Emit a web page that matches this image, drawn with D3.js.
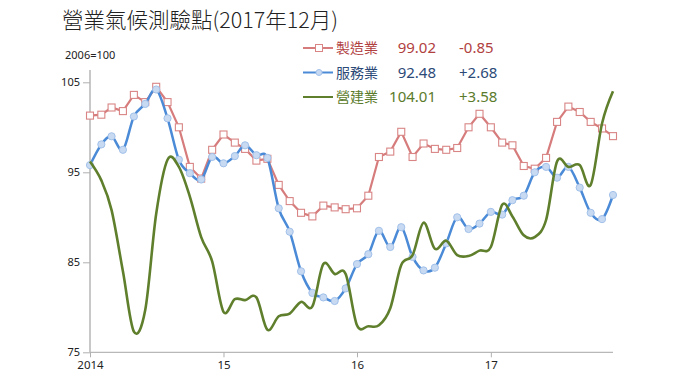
<!DOCTYPE html>
<html><head><meta charset="utf-8">
<script src="https://cdn.jsdelivr.net/npm/d3@7"></script>
<style>body{margin:0;background:#fff;}svg{display:block;}</style>
</head><body><svg id="c" width="680" height="382"></svg>
<script>
const months = d3.range(48).map(i => new Date(2014 + Math.floor(i/12), i%12, 1));
const manufacturing = [101.3,101.4,102.2,101.8,103.6,102.8,104.5,102.8,100.0,95.6,94.3,97.5,
  99.2,98.3,97.6,96.3,96.5,93.6,91.8,90.5,90.1,91.3,91.1,90.9,
  91.0,92.4,96.7,97.3,99.5,96.7,98.2,97.6,97.5,97.7,100.0,101.5,
  100.0,98.3,98.0,95.7,95.4,96.6,100.6,102.3,101.7,100.6,99.87,99.02];
const services = [95.8,98.1,99.0,97.5,101.2,102.6,104.2,101.0,96.4,94.9,94.2,96.7,
  96.0,96.8,98.0,96.9,96.6,91.0,88.4,84.0,81.6,81.1,80.7,82.1,
  84.8,85.9,88.5,86.7,88.9,85.6,84.1,84.4,87.1,90.0,88.7,89.3,
  90.6,90.3,91.9,92.4,95.0,95.6,94.4,95.6,93.3,90.5,89.80,92.48];
const construction = [96.2,94.1,90.8,84.0,77.3,79.7,90.4,96.4,95.6,92.3,87.8,85.1,
  79.5,80.9,80.8,81.1,77.5,79.0,79.3,80.6,80.1,84.8,83.7,83.7,
  78.0,77.9,78.0,79.9,84.7,85.8,89.4,86.5,87.4,85.8,85.7,86.3,
  86.7,91.4,90.1,88.0,87.8,89.7,96.2,95.6,95.8,93.6,100.43,104.01];
const yTicks = [75,85,95,105];
const xTickYears = [2014,2015,2016,2017];
const xTickLabels = ["2014","15","16","17"];
const seriesNames = ["製造業","服務業","營建業"];
const lastValues = ["99.02","92.48","104.01"];
const changes = ["-0.85","+2.68","+3.58"];
const titleText = "營業氣候測驗點(2017年12月)";
const unitText = "2006=100";

const svg = d3.select("#c");
const x = d3.scaleTime().domain([months[0], months[47]]).range([90, 613]);
const y = d3.scaleLinear().domain([75, 105]).range([352.3, 82.3]);

svg.append("text").attr("x", 62).attr("y", 28).attr("font-family","Noto Sans CJK TC")
  .attr("font-size", 21.5).attr("font-weight",300).attr("fill","#222").text(titleText);
svg.append("text").attr("x", 65).attr("y", 59).attr("font-family","Noto Sans")
  .attr("font-size", 11).attr("fill","#222").text(unitText);

// y axis
const gy = svg.append("g").attr("transform","translate(90,0)")
  .call(d3.axisLeft(y).tickValues(yTicks).tickSize(7).tickPadding(3));
gy.select(".domain").attr("stroke","#c8c8c8").attr("stroke-width",2).attr("d","M0,70V352.3");
gy.selectAll(".tick line").attr("stroke","#b0b0b0");
gy.selectAll("text").attr("font-family","Noto Sans").attr("font-size",11).attr("fill","#222");

// x axis
const gx = svg.append("g").attr("transform","translate(0,352.3)")
  .call(d3.axisBottom(x).tickValues(xTickYears.map(yr => new Date(yr,0,1)))
    .tickFormat((d,i) => xTickLabels[i]).tickSize(5).tickPadding(4));
gx.select(".domain").attr("stroke","#b8b8b8").attr("stroke-width",1.3).attr("d","M90,0H613");
gx.selectAll(".tick line").attr("stroke","#b0b0b0");
gx.selectAll("text").attr("font-family","Noto Sans").attr("font-size",11.5).attr("fill","#222");

const lineLin = d3.line().x((d,i) => x(months[i])).y(d => y(d));
const lineSmooth = d3.line().x((d,i) => x(months[i])).y(d => y(d)).curve(d3.curveCardinal.tension(0));

svg.append("path").attr("d", lineLin(manufacturing)).attr("fill","none")
  .attr("stroke","#d67c7c").attr("stroke-width",2.2);
svg.append("g").selectAll("rect").data(manufacturing).join("rect")
  .attr("x",(d,i)=>x(months[i])-3.5).attr("y",d=>y(d)-3.5).attr("width",7).attr("height",7)
  .attr("fill","#fff").attr("stroke","#d98585").attr("stroke-width",1.1);

svg.append("path").attr("d", lineSmooth(services)).attr("fill","none")
  .attr("stroke","#4a8ad6").attr("stroke-width",2.5);
svg.append("g").selectAll("circle").data(services).join("circle")
  .attr("cx",(d,i)=>x(months[i])).attr("cy",d=>y(d)).attr("r",3.6)
  .attr("fill","#c8daf2").attr("stroke","#a2c1ea").attr("stroke-width",1);

svg.append("path").attr("d", lineSmooth(construction)).attr("fill","none")
  .attr("stroke","#5f7f2d").attr("stroke-width",2.6);

// legend
const lg = [
  {c:"#d67c7c", t:"#b1413f", m:"rect", yy:48},
  {c:"#4a8ad6", t:"#2c4a78", m:"circle", yy:72.5},
  {c:"#5f7f2d", t:"#5b7b2c", m:null, yy:97}
];
lg.forEach((l,i) => {
  svg.append("line").attr("x1",303).attr("x2",333).attr("y1",l.yy).attr("y2",l.yy)
    .attr("stroke",l.c).attr("stroke-width",2);
  if (l.m === "rect") svg.append("rect").attr("x",315.5).attr("y",l.yy-3.5).attr("width",7).attr("height",7)
    .attr("fill","#fff").attr("stroke","#d98585");
  if (l.m === "circle") svg.append("circle").attr("cx",319).attr("cy",l.yy).attr("r",3)
    .attr("fill","#c8daf2").attr("stroke","#a2c1ea");
  const ty = l.yy + 5;
  svg.append("text").attr("x",336).attr("y",ty).attr("font-family","Noto Sans CJK TC")
    .attr("font-size",14).attr("fill",l.t).text(seriesNames[i]);
  svg.append("text").attr("x",436).attr("y",ty).attr("text-anchor","end").attr("font-family","Noto Sans")
    .attr("font-size",15).attr("fill",l.t).text(lastValues[i]);
  svg.append("text").attr("x",459).attr("y",ty).attr("font-family","Noto Sans")
    .attr("font-size",15).attr("fill",l.t).text(changes[i]);
});
</script></body></html>
